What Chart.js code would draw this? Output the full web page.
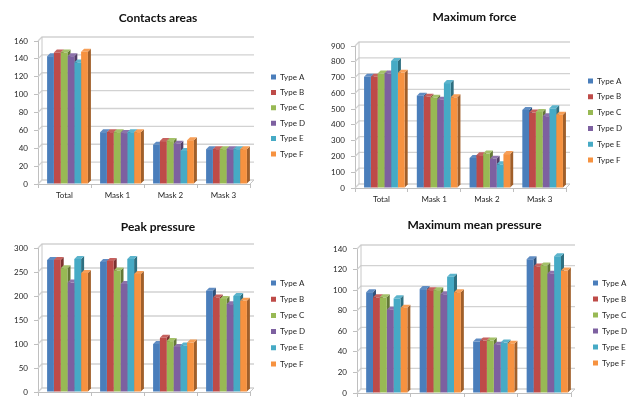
<!DOCTYPE html>
<html>
<head>
<meta charset="utf-8">
<script src="https://cdn.jsdelivr.net/npm/chart.js@4/dist/chart.umd.min.js"></script>
<style>
  html, body { margin: 0; padding: 0; background: #ffffff; }
  body { width: 633px; height: 398px; position: relative; overflow: hidden; }
  .panel { position: absolute; }
</style>
</head>
<body>
<div class="panel" style="left:0;top:0;width:316px;height:200px"><canvas id="c1"></canvas></div>
<div class="panel" style="left:316px;top:0;width:317px;height:206px"><canvas id="c2"></canvas></div>
<div class="panel" style="left:0;top:200px;width:316px;height:215px"><canvas id="c3"></canvas></div>
<div class="panel" style="left:316px;top:200px;width:317px;height:215px"><canvas id="c4"></canvas></div>
<script>
// Categories and series
const categories = ['Total', 'Mask 1', 'Mask 2', 'Mask 3'];
const typeNames = ['Type A', 'Type B', 'Type C', 'Type D', 'Type E', 'Type F'];

// One row per type (A..F), one column per category
const contactsAreas = [
  [143, 58, 44, 39],
  [147, 58, 48, 39],
  [147, 58, 48, 39],
  [143, 57, 45, 39],
  [136, 58, 37, 39],
  [148, 58, 49, 39]
];
const maximumForce = [
  [705, 585, 190, 495],
  [705, 578, 208, 478],
  [725, 572, 218, 482],
  [725, 560, 185, 455],
  [805, 665, 150, 505],
  [730, 575, 215, 465]
];
const peakPressure = [
  [275, 271, 100, 211],
  [275, 273, 113, 197],
  [258, 253, 106, 194],
  [228, 225, 94, 183],
  [277, 277, 97, 200],
  [248, 246, 103, 190]
];
const maxMeanPressure = [
  [98, 101, 50, 130],
  [93, 100, 51, 123],
  [93, 100, 51, 124],
  [81, 96, 47, 116],
  [92, 113, 49, 133],
  [83, 98, 48, 119]
];

// Value axis ranges: [max, step]
const contactsAxis = [160, 20];
const forceAxis = [900, 100];
const peakAxis = [300, 50];
const meanAxis = [140, 20];

// Office-style palette
const typeColors = ['#4A7EBB', '#BE4B48', '#98B954', '#7D60A0', '#46AAC5', '#F69240'];

function shade(hex, f) {
  const n = parseInt(hex.slice(1), 16);
  let r = (n >> 16) & 255, g = (n >> 8) & 255, b = n & 255;
  if (f < 0) { r *= 1 + f; g *= 1 + f; b *= 1 + f; }
  else { r += (255 - r) * f; g += (255 - g) * f; b += (255 - b) * f; }
  return 'rgb(' + Math.round(r) + ',' + Math.round(g) + ',' + Math.round(b) + ')';
}
const sideColors = typeColors.map(c => shade(c, -0.35));
const topColors = typeColors.map(c => shade(c, 0.12));

const FONT = 'Lato, "Liberation Sans", sans-serif';
const WALL = 4;

// Back wall and floor: each value gridline runs from the front axis tick
// diagonally back to the wall, then across the plot
const wall3d = {
  id: 'wall3d',
  beforeDatasetsDraw(chart) {
    const ctx = chart.ctx;
    const y = chart.scales.y;
    const a = chart.chartArea;
    const d = WALL;
    ctx.save();
    ctx.lineWidth = 1.3;
    ctx.strokeStyle = '#d2d2d2';
    y.ticks.forEach(t => {
      const py = y.getPixelForValue(t.value);
      ctx.beginPath();
      ctx.moveTo(a.left, py);
      ctx.lineTo(a.left + d, py - d);
      ctx.lineTo(a.right + d, py - d);
      ctx.stroke();
    });
    // wall edge and floor outline
    ctx.strokeStyle = '#c8c8c8';
    ctx.lineWidth = 1;
    ctx.beginPath();
    ctx.moveTo(a.left + d, a.bottom - d);
    ctx.lineTo(a.left + d, a.top - d);
    ctx.moveTo(a.right, a.bottom);
    ctx.lineTo(a.right + d, a.bottom - d);
    ctx.stroke();
    ctx.restore();
  }
};

// Gives each bar a top and right side face so columns look extruded;
// the columns sit a little back from the front axis, inside the floor depth
const barDepth = {
  id: 'barDepth',
  beforeDatasetsDraw(chart, args, opts) {
    const d = opts.depth || 3;
    const ctx = chart.ctx;
    ctx.save();
    ctx.translate(opts.inset || 0, 0);
    const metas = chart.getSortedVisibleDatasetMetas();
    metas.forEach(meta => {
      const i = meta.index;
      meta.data.forEach(bar => {
        const p = bar.getProps(['x', 'y', 'base', 'width'], true);
        const l = p.x - p.width / 2, r = p.x + p.width / 2;
        ctx.fillStyle = sideColors[i];
        ctx.beginPath();
        ctx.moveTo(r, p.y); ctx.lineTo(r + d, p.y - d);
        ctx.lineTo(r + d, p.base - d); ctx.lineTo(r, p.base);
        ctx.closePath(); ctx.fill();
        ctx.fillStyle = topColors[i];
        ctx.beginPath();
        ctx.moveTo(l, p.y); ctx.lineTo(l + d, p.y - d);
        ctx.lineTo(r + d, p.y - d); ctx.lineTo(r, p.y);
        ctx.closePath(); ctx.fill();
      });
    });
  },
  afterDatasetsDraw(chart) {
    chart.ctx.restore();
  }
};

// Places the legend column at a given box x and first-row centre y
const legendPlace = {
  id: 'legendPlace',
  afterLayout(chart, args, opts) {
    const lg = chart.legend;
    if (!lg || !lg.columnSizes || !lg.columnSizes.length) return;
    const pad = lg.options.labels.padding;
    const fs = lg.options.labels.font.size;
    const bh = lg.options.labels.boxHeight || fs;
    const itemH = Math.max(fs, bh);
    const dx = opts.x - (lg.left + pad);
    const y0 = ((lg.top + pad) + (lg.bottom - lg.columnSizes[0].height)) / 2;
    const dy = opts.y - (y0 + itemH / 2);
    lg.left += dx; lg.right += dx;
    lg.top += dy; lg.bottom += dy;
  }
};

function makeChart(id, title, rows, axis, L) {
  const datasets = rows.map((vals, i) => ({
    label: typeNames[i],
    data: vals,
    backgroundColor: typeColors[i],
    borderWidth: 0,
    categoryPercentage: 0.77,
    barPercentage: 1.0
  }));
  const titleTop = L.titleY - 7.2;
  return new Chart(document.getElementById(id), {
    type: 'bar',
    data: { labels: categories, datasets },
    plugins: [wall3d, barDepth, legendPlace],
    options: {
      responsive: true,
      maintainAspectRatio: false,
      animation: false,
      layout: { padding: { left: 0, right: 0, top: 0, bottom: 0 } },
      plugins: {
        title: {
          display: true, text: title, color: '#111111',
          font: { family: FONT, size: 12, weight: 'bold' },
          padding: { top: titleTop, bottom: L.top - titleTop - 14.4 }
        },
        legend: {
          position: 'right',
          labels: {
            boxWidth: 5, boxHeight: 5, padding: L.legendGap - 8,
            color: '#262626', font: { family: FONT, size: 8 }
          }
        },
        legendPlace: { x: L.legendX, y: L.legendY },
        barDepth: { depth: 3, inset: 3 },
        tooltip: { enabled: false }
      },
      scales: {
        x: {
          grid: { display: true, drawOnChartArea: false, tickLength: 4, color: '#bfbfbf' },
          border: { display: true, color: '#bfbfbf' },
          ticks: { padding: 3, color: '#262626', font: { family: FONT, size: 8 } },
          afterFit(s) { s.height = L.H - L.bottom; }
        },
        y: {
          min: 0, max: axis[0],
          ticks: { stepSize: axis[1], padding: 6, color: '#262626', font: { family: FONT, size: 8 } },
          grid: { drawOnChartArea: false, tickLength: 4, color: '#bfbfbf' },
          border: { display: true, color: '#bfbfbf' },
          afterFit(s) { s.width = L.left; }
        },
        gap: {
          type: 'linear', position: 'right', display: true,
          grid: { display: false }, border: { display: false }, ticks: { display: false },
          afterFit(s) { s.width = Math.max(0, L.W - L.right - s.chart.legend.width); }
        }
      }
    }
  });
}

makeChart('c1', 'Contacts areas', contactsAreas, contactsAxis,
  { W: 316, H: 200, titleY: 18, top: 41, bottom: 184, left: 38, right: 250, legendX: 271, legendY: 77, legendGap: 15.4 });
makeChart('c2', 'Maximum force', maximumForce, forceAxis,
  { W: 317, H: 206, titleY: 17, top: 46, bottom: 188, left: 39, right: 250, legendX: 272, legendY: 81, legendGap: 15.8 });
makeChart('c3', 'Peak pressure', peakPressure, peakAxis,
  { W: 316, H: 215, titleY: 27, top: 48, bottom: 192, left: 38, right: 250, legendX: 271, legendY: 83, legendGap: 16.2 });
makeChart('c4', 'Maximum mean pressure', maxMeanPressure, meanAxis,
  { W: 317, H: 215, titleY: 25, top: 49, bottom: 193, left: 41, right: 255, legendX: 277, legendY: 83, legendGap: 16 });
</script>
</body>
</html>
